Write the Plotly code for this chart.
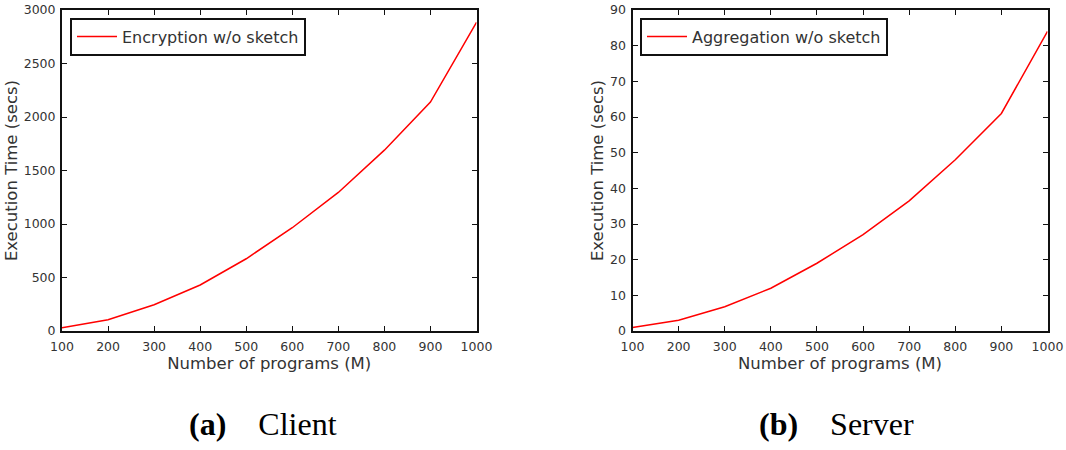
import plotly.graph_objects as go

programs = [100, 200, 300, 400, 500, 600, 700, 800, 900, 1000]
client_encryption = [30, 105, 245, 430, 675, 965, 1295, 1690, 2140, 2885]
server_aggregation = [1, 3, 6.8, 12, 19, 27, 36.5, 48, 61, 84]
x_ticks = [100, 200, 300, 400, 500, 600, 700, 800, 900, 1000]
client_yticks = [0, 500, 1000, 1500, 2000, 2500, 3000]
server_yticks = [0, 10, 20, 30, 40, 50, 60, 70, 80, 90]

W, H = 1066, 450
font_family = "DejaVu Sans"
txt_color = "#333333"

fig = go.Figure()
fig.add_trace(go.Scatter(x=programs, y=client_encryption, mode="lines",
                         name="Encryption w/o sketch", line=dict(color="#ff0000", width=1.5),
                         xaxis="x", yaxis="y", legend="legend"))
fig.add_trace(go.Scatter(x=programs, y=server_aggregation, mode="lines",
                         name="Aggregation w/o sketch", line=dict(color="#ff0000", width=1.5),
                         xaxis="x2", yaxis="y2", legend="legend2"))

def px_x(p):
    return p / W

def px_y(p):
    return 1 - p / H

ydom = [px_y(331), px_y(10)]
common_axis = dict(showline=True, linecolor="#111111", linewidth=2, mirror="allticks",
                   ticks="inside", ticklen=5, tickwidth=1.2, tickcolor="#111111",
                   showgrid=False, zeroline=False, automargin=False,
                   tickfont=dict(family=font_family, size=12.5, color=txt_color))
title_font = dict(family=font_family, size=16.5, color=txt_color)

legend_common = dict(xanchor="left", yanchor="top", bordercolor="#111111", borderwidth=2,
                     bgcolor="white", itemwidth=40,
                     font=dict(family=font_family, size=16, color=txt_color))

fig.update_layout(
    width=W, height=H,
    margin=dict(l=0, r=0, t=0, b=0),
    paper_bgcolor="white", plot_bgcolor="white",
    font=dict(family=font_family, color=txt_color),
    xaxis=dict(domain=[px_x(62), px_x(476.5)], range=[100, 1000], tickvals=x_ticks,
               anchor="y", ticklabelstandoff=3,
               title=dict(text="Number of programs (M)", font=title_font, standoff=0),
               **common_axis),
    yaxis=dict(domain=ydom, range=[0, 3000], tickvals=client_yticks, anchor="x",
               ticklabelstandoff=2,
               title=dict(text="Execution Time (secs)", font=title_font, standoff=2),
               **common_axis),
    xaxis2=dict(domain=[px_x(632.5), px_x(1047.5)], range=[100, 1000], tickvals=x_ticks,
                anchor="y2", ticklabelstandoff=3,
                title=dict(text="Number of programs (M)", font=title_font, standoff=0),
                **common_axis),
    yaxis2=dict(domain=ydom, range=[0, 90], tickvals=server_yticks, anchor="x2",
                ticklabelstandoff=2,
                title=dict(text="Execution Time (secs)", font=title_font, standoff=2),
                **common_axis),
    legend=dict(x=px_x(70), y=px_y(17.5), **legend_common),
    legend2=dict(x=px_x(640), y=px_y(17.5), **legend_common),
    showlegend=True,
)

cap_font = dict(family="Liberation Serif", size=32, color="black")
fig.add_annotation(text="<b>(a)</b>    Client", x=px_x(187), y=px_y(424), xref="paper", yref="paper",
                   xanchor="left", yanchor="middle", showarrow=False, font=cap_font)
fig.add_annotation(text="<b>(b)</b>    Server", x=px_x(757), y=px_y(424), xref="paper", yref="paper",
                   xanchor="left", yanchor="middle", showarrow=False, font=cap_font)

fig.write_html("out.html")
